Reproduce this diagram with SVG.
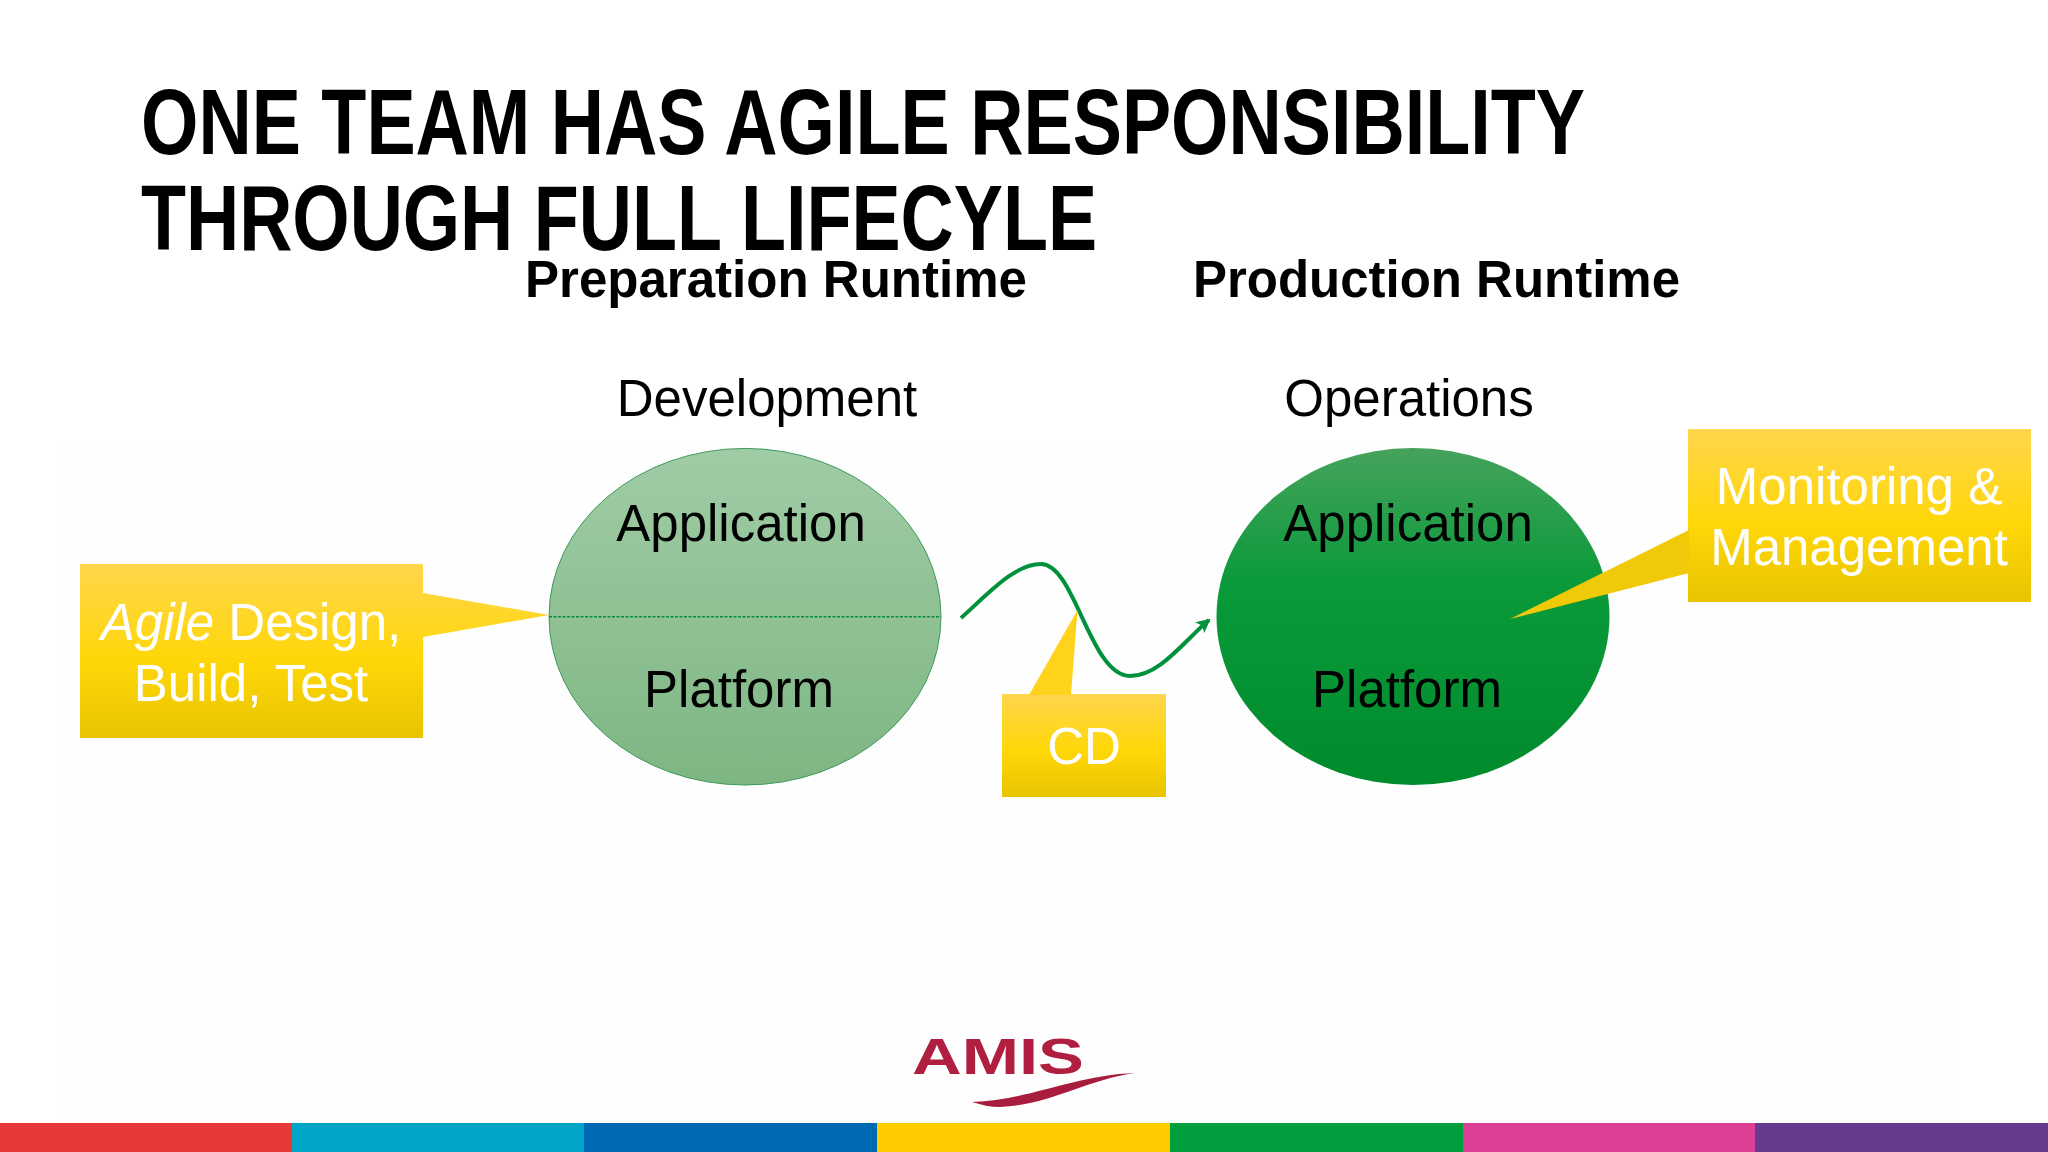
<svg xmlns="http://www.w3.org/2000/svg" width="2048" height="1152" viewBox="0 0 2048 1152">
<style>
text{font-family:"Liberation Sans",Arial,sans-serif}
.t{font-family:"Liberation Sans Narrow","Liberation Sans",Arial,sans-serif;font-weight:700;font-size:92px;fill:#000}
.h{font-weight:700;font-size:51px;fill:#000}
.l{font-size:51px;fill:#000;text-anchor:middle}
.c{font-size:51px;fill:#fff;text-anchor:middle}
.call{fill:url(#y)}
</style>
<defs>
<linearGradient id="y" x1="0" y1="0" x2="0" y2="1"><stop offset="0" stop-color="#ffd64d"/><stop offset=".55" stop-color="#ffd708"/><stop offset="1" stop-color="#e8c300"/></linearGradient>
<linearGradient id="g1" x1="0" y1="0" x2="0" y2="1"><stop offset="0" stop-color="#a0cca6"/><stop offset="1" stop-color="#7eb683"/></linearGradient>
<linearGradient id="g2" x1="0" y1="0" x2="0" y2="1"><stop offset="0" stop-color="#46a25c"/><stop offset=".4" stop-color="#0a9a3a"/><stop offset="1" stop-color="#008b2c"/></linearGradient>
<marker id="arr" markerWidth="3.500" markerHeight="3.500" refX="3" refY="1.750" orient="auto"><path d="M0 0L3.500 1.750L0 3.500L.8 1.750Z" fill="#00923a"/></marker>
</defs>
<rect width="2048" height="1152" fill="#fff"/>
<rect x="60" y="440" width="1900" height="680" fill="#fefefe"/>
<g id="title">
<text class="t" x="141" y="154" textLength="1444" lengthAdjust="spacingAndGlyphs">ONE TEAM HAS AGILE RESPONSIBILITY</text>
<text class="t" x="141" y="250" textLength="956" lengthAdjust="spacingAndGlyphs">THROUGH FULL LIFECYLE</text>
</g>
<g id="heading-prep"><text class="h" x="525" y="297" textLength="502" lengthAdjust="spacingAndGlyphs">Preparation Runtime</text></g>
<g id="heading-prod"><text class="h" x="1193" y="297" textLength="487" lengthAdjust="spacingAndGlyphs">Production Runtime</text></g>
<g id="label-dev"><text class="l" x="767" y="416">Development</text></g>
<g id="label-ops"><text class="l" x="1409" y="416">Operations</text></g>
<g id="connectors">
<path d="M961 618C990 592 1015 564 1041 564C1075 564 1090 676 1130 676C1160 676 1185 640 1209 620" fill="none" stroke="#00923a" stroke-width="4" marker-end="url(#arr)"/>
</g>
<g id="prep-ellipse">
<ellipse cx="745" cy="616.7" rx="196" ry="168.3" fill="url(#g1)" stroke="#3f9a5c" stroke-width="1"/>
<line x1="549" y1="616.700" x2="941" y2="616.700" stroke="#0a8a3c" stroke-width="1.500" stroke-dasharray="3 1.500"/>
<text class="l" x="741" y="541">Application</text>
<text class="l" x="739" y="707">Platform</text>
</g>
<g id="prod-ellipse">
<ellipse cx="1413" cy="616.5" rx="196.5" ry="168.5" fill="url(#g2)"/>
<text class="l" x="1408" y="541">Application</text>
<text class="l" x="1407" y="707">Platform</text>
</g>
<g id="callout-agile">
<path class="call" d="M80 564H423V593L549 615L423 637V738H80Z"/>
<text class="c" x="251" y="640"><tspan font-style="italic">Agile</tspan> Design,</text>
<text class="c" x="251" y="701">Build, Test</text>
</g>
<g id="callout-cd">
<rect class="call" x="1002" y="694" width="164" height="103"/>
<path d="M1029 695L1077.500 610L1071 695Z" fill="#ffd31c"/>
<text class="c" x="1084" y="764">CD</text>
</g>
<g id="callout-monitoring">
<rect class="call" x="1688" y="429" width="343" height="173"/>
<path d="M1689 530L1510 619L1689 573Z" fill="#f0ca08"/>
<text class="c" x="1859" y="504">Monitoring &amp;</text>
<text class="c" x="1859" y="565">Management</text>
</g>
<g id="logo">
<text x="912" y="1074" font-size="50" font-weight="700" fill="#b01f3f" textLength="172" lengthAdjust="spacingAndGlyphs">AMIS</text>
<path d="M972 1102C1030 1100 1075 1075 1135 1073C1085 1080 1050 1105 1000 1107C990 1107 982 1105 972 1102Z" fill="#a81c3c"/>
</g>
<g id="color-bar">
<rect x="0" y="1123" width="292" height="29" fill="#e8383a"/>
<rect x="292" y="1123" width="292" height="29" fill="#00a6c8"/>
<rect x="584" y="1123" width="293" height="29" fill="#0069b4"/>
<rect x="877" y="1123" width="293" height="29" fill="#ffcc00"/>
<rect x="1170" y="1123" width="293" height="29" fill="#009e3d"/>
<rect x="1463" y="1123" width="292" height="29" fill="#dc3f93"/>
<rect x="1755" y="1123" width="293" height="29" fill="#663a8e"/>
</g>
</svg>
